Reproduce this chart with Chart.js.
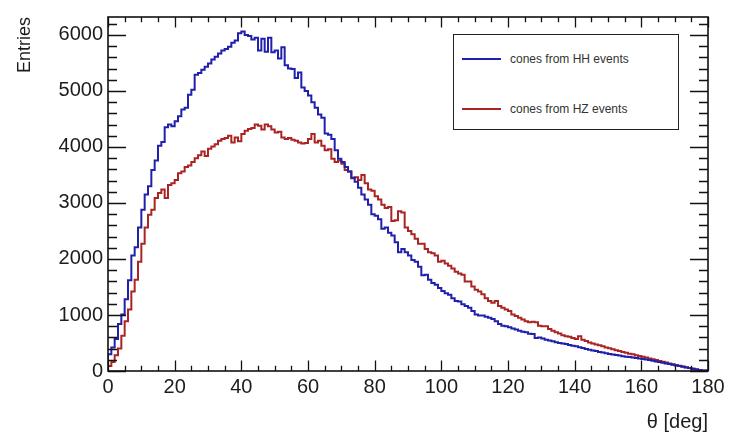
<!DOCTYPE html>
<html><head><meta charset="utf-8">
<script src="https://cdn.jsdelivr.net/npm/chart.js@4.4.0/dist/chart.umd.min.js"></script>
<style>
html,body{margin:0;padding:0;background:#fff;}
#wrap{position:relative;width:729px;height:437px;}
#legend{position:absolute;left:453px;top:34px;width:226px;height:96px;border:1.5px solid #222;box-sizing:border-box;font-family:"Liberation Sans",Arial,sans-serif;font-size:12px;color:#333;background:#fff;}
.item{position:absolute;left:8px;height:14px;line-height:14px;display:flex;align-items:center;white-space:nowrap;}
.sw{display:inline-block;width:39px;height:0;border-top:2px solid;margin-right:9px;}
</style></head>
<body>
<div id="wrap"><canvas id="c" width="729" height="437"></canvas><div id="legend"></div></div>
<script>
// ---- data ----
const thetaMin = 0, thetaMax = 180, binWidth = 1; // degrees per bin
const hhCounts = [
 200,300,420,570,840,1010,1280,1620,2060,2210,
 2560,2880,3150,3300,3590,3760,4020,4090,4350,4400,
 4370,4460,4550,4670,4700,4930,5020,5290,5320,5380,
 5430,5490,5560,5610,5670,5720,5750,5790,5860,5900,
 6030,6060,6000,5980,5920,5950,5720,5930,5700,5950,
 5690,5720,5580,5780,5460,5400,5390,5230,5330,5060,
 5000,4920,4800,4700,4580,4520,4240,4220,4140,3940,
 3790,3730,3640,3560,3450,3380,3270,3150,3060,2970,
 2800,2770,2710,2540,2560,2470,2420,2300,2120,2180,
 2120,2060,1980,1950,1860,1710,1720,1630,1570,1540,
 1480,1430,1390,1360,1300,1250,1240,1190,1160,1130,
 1070,1010,990,990,970,950,930,890,840,810,
 800,780,760,740,720,700,690,665,660,590,
 600,580,560,545,530,515,500,490,480,465,
 450,440,425,410,395,380,365,355,340,330,
 315,305,295,285,275,265,255,248,240,232,
 225,215,205,195,182,170,160,148,136,124,
 112,100,88,76,64,52,40,28,18,8
];
const hzCounts = [
 40,90,160,280,400,630,890,1100,1420,1630,
 1950,2270,2560,2790,2880,3090,3180,3240,3090,3320,
 3350,3410,3530,3560,3640,3670,3730,3800,3850,3920,
 3840,3970,4010,4050,4110,4140,4160,4200,4080,4170,
 4100,4230,4290,4320,4340,4400,4380,4310,4400,4370,
 4310,4260,4270,4170,4140,4160,4130,4110,4080,4060,
 4070,4140,4230,4080,4110,4020,3940,3960,3790,3730,
 3760,3700,3590,3560,3440,3460,3410,3500,3350,3240,
 3220,3120,3060,2970,2910,2930,2680,2690,2850,2830,
 2560,2500,2440,2360,2270,2270,2180,2120,2100,2060,
 1950,1970,1920,1880,1830,1770,1740,1720,1600,1600,
 1510,1450,1420,1370,1300,1250,1220,1250,1160,1130,
 1100,1070,1010,980,950,920,890,870,880,870,
 810,800,800,750,720,690,670,640,620,610,
 590,570,620,560,535,510,490,475,460,440,
 420,405,390,372,355,340,325,310,297,283,
 270,255,240,225,210,195,180,165,150,135,
 120,107,94,80,68,55,42,30,18,8
];
const seriesNames = ['cones from HH events', 'cones from HZ events'];
const seriesColors = ['#2020ac', '#aa2424'];
const xTickValues = [0,20,40,60,80,100,120,140,160,180];
const yTickValues = [0,1000,2000,3000,4000,5000,6000];
const yMax = 6320;
const xMinorStep = 5, yMinorStep = 200;
const xTitle = 'θ [deg]', yTitle = 'Entries';

// ---- build ----
function histPoints(counts){
  const pts = counts.map((v,i)=>({x: thetaMin + i*binWidth, y: v}));
  pts.push({x: thetaMin + counts.length*binWidth, y: counts[counts.length-1]});
  return pts;
}
const FONT = '"Liberation Sans", Arial, sans-serif';

const rootFrame = {
  id: 'rootFrame',
  afterDatasetsDraw(chart){
    const {ctx, chartArea: a, scales: {x, y}} = chart;
    ctx.save();
    ctx.strokeStyle = '#111';
    ctx.lineWidth = 1.3;
    const xLen = a.height * 0.03, yLen = a.width * 0.03;
    ctx.beginPath();
    for (let v = thetaMin; v <= thetaMax; v += xMinorStep){
      const px = Math.round(x.getPixelForValue(v)) + 0.5;
      const L = xTickValues.includes(v) ? xLen : xLen/2;
      ctx.moveTo(px, a.bottom); ctx.lineTo(px, a.bottom - L);
      ctx.moveTo(px, a.top); ctx.lineTo(px, a.top + L);
    }
    for (let v = 0; v <= yMax; v += yMinorStep){
      const py = Math.round(y.getPixelForValue(v)) + 0.5;
      const L = yTickValues.includes(v) ? yLen : yLen/2;
      ctx.moveTo(a.left, py); ctx.lineTo(a.left + L, py);
      ctx.moveTo(a.right, py); ctx.lineTo(a.right - L, py);
    }
    ctx.stroke();
    ctx.lineWidth = 1.6;
    ctx.strokeRect(a.left, a.top, a.width, a.height);
    ctx.restore();
  }
};

new Chart(document.getElementById('c'), {
  type: 'line',
  data: {
    datasets: [hhCounts, hzCounts].map((c, k) => ({
      label: seriesNames[k],
      data: histPoints(c),
      borderColor: seriesColors[k],
      backgroundColor: seriesColors[k],
      borderWidth: 2,
      stepped: 'after',
      pointRadius: 0,
      fill: false
    }))
  },
  options: {
    responsive: false,
    animation: false,
    devicePixelRatio: 1,
    layout: {padding: {left: 0, right: 21, top: 10, bottom: 0}},
    plugins: {legend: {display: false}, tooltip: {enabled: false}},
    scales: {
      x: {
        type: 'linear', min: thetaMin, max: thetaMax,
        grid: {display: false, drawTicks: false}, border: {display: false},
        afterBuildTicks: s => { s.ticks = xTickValues.map(v => ({value: v})); },
        afterFit: s => { s.height = 66; },
        ticks: {font: {family: FONT, size: 20}, color: '#1c1c1c', padding: 4, maxRotation: 0, autoSkip: false, callback: v => String(v)},
        title: {display: true, text: xTitle, align: 'end', color: '#1c1c1c', font: {family: FONT, size: 20}, padding: {top: 0, bottom: 3}}
      },
      y: {
        type: 'linear', min: 0, max: yMax,
        grid: {display: false, drawTicks: false}, border: {display: false},
        afterBuildTicks: s => { s.ticks = yTickValues.map(v => ({value: v})); },
        afterFit: s => { s.width = 108; },
        ticks: {font: {family: FONT, size: 20}, color: '#1c1c1c', padding: 5, callback: v => String(v)},
        title: {display: true, text: yTitle, align: 'end', color: '#1c1c1c', font: {family: FONT, size: 18}, padding: {top: 14, bottom: 0}}
      }
    }
  },
  plugins: [rootFrame]
});

// legend
const lg = document.getElementById('legend');
const itemTops = [17, 67];
seriesNames.forEach((n, k) => {
  const d = document.createElement('div');
  d.className = 'item';
  d.style.top = itemTops[k] + 'px';
  const sw = document.createElement('span');
  sw.className = 'sw';
  sw.style.borderColor = seriesColors[k];
  d.appendChild(sw);
  d.appendChild(document.createTextNode(n));
  lg.appendChild(d);
});
</script>
</body></html>
